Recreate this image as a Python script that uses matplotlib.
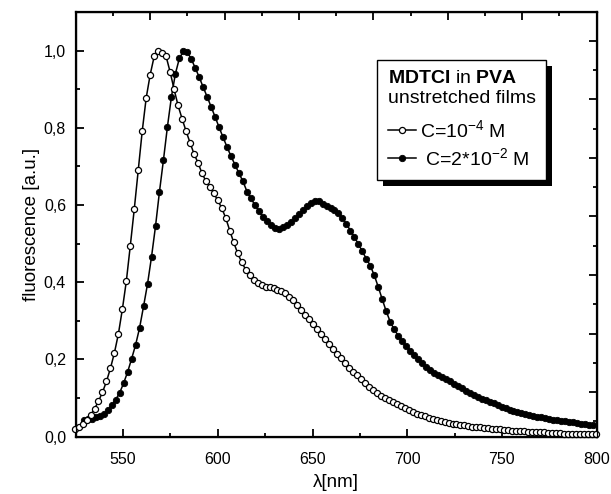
import numpy as np
import matplotlib
matplotlib.use("Agg")
import matplotlib.pyplot as plt
from matplotlib.ticker import FixedLocator, NullFormatter, MultipleLocator
from matplotlib.patches import Rectangle
from matplotlib.transforms import IdentityTransform

plt.rcParams['font.family'] = ['Liberation Sans', 'DejaVu Sans']
plt.rcParams['mathtext.fontset'] = 'custom'
plt.rcParams['mathtext.rm'] = 'Liberation Sans'
plt.rcParams['mathtext.it'] = 'Liberation Sans:italic'
plt.rcParams['mathtext.bf'] = 'Liberation Sans:bold'

# ---------------- data ----------------
# first wavelength of each series and sampling step [nm]
wl_low_start = 524.4
wl_high_start = 529.3
wl_step = 2.1

# C = 1e-4 M (open circles)
fluo_low = [
    0.020, 0.025, 0.032, 0.043, 0.056, 0.072, 0.092, 0.115, 0.143, 0.177,
    0.217, 0.266, 0.330, 0.403, 0.495, 0.590, 0.692, 0.792, 0.878, 0.938,
    0.985, 1.000, 0.993, 0.985, 0.945, 0.900, 0.858, 0.824, 0.792, 0.762,
    0.733, 0.710, 0.683, 0.662, 0.647, 0.630, 0.612, 0.592, 0.566, 0.534,
    0.503, 0.475, 0.452, 0.433, 0.418, 0.407, 0.399, 0.392, 0.389, 0.387,
    0.384, 0.381, 0.378, 0.373, 0.363, 0.354, 0.342, 0.329, 0.316, 0.304,
    0.291, 0.278, 0.265, 0.254, 0.241, 0.228, 0.215, 0.203, 0.190, 0.178,
    0.168, 0.159, 0.149, 0.138, 0.129, 0.120, 0.113, 0.106, 0.100, 0.095,
    0.089, 0.084, 0.079, 0.074, 0.069, 0.064, 0.060, 0.056, 0.053, 0.049,
    0.046, 0.043, 0.040, 0.038, 0.036, 0.034, 0.032, 0.030, 0.029, 0.027,
    0.026, 0.025, 0.024, 0.023, 0.022, 0.021, 0.020, 0.019, 0.018, 0.017,
    0.016, 0.015, 0.014, 0.014, 0.013, 0.012, 0.012, 0.011, 0.011, 0.010,
    0.010, 0.009, 0.009, 0.008, 0.008, 0.008, 0.007, 0.007, 0.007, 0.006,
    0.006, 0.006,
]

# C = 2e-2 M (filled circles)
fluo_high = [
    0.043, 0.045, 0.047, 0.050, 0.053, 0.060, 0.070, 0.082, 0.096, 0.114,
    0.139, 0.168, 0.202, 0.238, 0.282, 0.338, 0.396, 0.466, 0.545, 0.635,
    0.717, 0.803, 0.880, 0.940, 0.980, 0.998, 0.996, 0.978, 0.955, 0.931,
    0.905, 0.880, 0.854, 0.828, 0.801, 0.775, 0.750, 0.726, 0.704, 0.682,
    0.661, 0.635, 0.617, 0.600, 0.584, 0.570, 0.558, 0.548, 0.541, 0.539,
    0.542, 0.549, 0.557, 0.567, 0.576, 0.588, 0.598, 0.605, 0.610, 0.610,
    0.604, 0.598, 0.592, 0.587, 0.579, 0.566, 0.551, 0.534, 0.517, 0.499,
    0.480, 0.461, 0.443, 0.418, 0.388, 0.356, 0.325, 0.298, 0.278, 0.262,
    0.248, 0.235, 0.223, 0.212, 0.201, 0.190, 0.180, 0.172, 0.166, 0.160,
    0.155, 0.149, 0.143, 0.137, 0.131, 0.125, 0.119, 0.114, 0.108, 0.103,
    0.098, 0.094, 0.090, 0.086, 0.082, 0.078, 0.074, 0.070, 0.067, 0.064,
    0.061, 0.058, 0.056, 0.054, 0.052, 0.050, 0.048, 0.046, 0.044, 0.043,
    0.041, 0.040, 0.038, 0.037, 0.035, 0.034, 0.032, 0.031, 0.030,
]

wl_low = np.round(wl_low_start + wl_step * np.arange(len(fluo_low)), 1)
wl_high = np.round(wl_high_start + wl_step * np.arange(len(fluo_high)), 1)

x_ticks = [550, 600, 650, 700, 750, 800]
x_tick_labels = ['550', '600', '650', '700', '750', '800']
y_ticks = [0.0, 0.2, 0.4, 0.6, 0.8, 1.0]
y_tick_labels = ['0,0', '0,2', '0,4', '0,6', '0,8', '1,0']

label_low = 'C=10$^{-4}$ M'
label_high = ' C=2*10$^{-2}$ M'
legend_title = '$\\mathbf{MDTCI}$ in $\\mathbf{PVA}$\nunstretched films'

# ---------------- figure ----------------
fig = plt.figure(figsize=(6.11, 4.94), dpi=100)
ax = fig.add_axes([0.124, 0.116, 0.8525, 0.8597])

l1, = ax.plot(wl_low, fluo_low, '-', color='black', lw=1.1, marker='o',
              ms=4.4, mfc='white', mec='black', mew=0.9, label=label_low,
              clip_on=False, zorder=3)
l2, = ax.plot(wl_high, fluo_high, '-', color='black', lw=1.1, marker='o',
              ms=4.6, mfc='black', mec='black', mew=0.6, label=label_high,
              clip_on=False, zorder=2)

ax.set_xlim(525, 800)
ax.set_ylim(0, 1.1)
ax.xaxis.set_major_locator(FixedLocator(x_ticks))
ax.set_xticklabels(x_tick_labels)
ax.xaxis.set_minor_locator(MultipleLocator(25))
ax.yaxis.set_major_locator(FixedLocator(y_ticks))
ax.set_yticklabels(y_tick_labels)
ax.yaxis.set_minor_locator(MultipleLocator(0.1))

ax.tick_params(which='both', direction='in', top=False, right=False,
               labelsize=11.5, width=1.3)
ax.tick_params(which='major', length=6)
ax.tick_params(which='minor', length=3)
ax.tick_params(axis='x', pad=11)
ax.tick_params(axis='y', pad=7)
for s in ax.spines.values():
    s.set_linewidth(1.6)

ax.set_xlabel('λ[nm]', fontsize=13.5, labelpad=5)
ax.set_ylabel('fluorescence [a.u.]', fontsize=13.5, labelpad=3)

# top axis ticks (independent scale, no labels)
axt = ax.twiny()
axt.set_xlim(0, 14)
axt.xaxis.set_major_locator(FixedLocator(list(range(2, 14, 2))))
axt.xaxis.set_minor_locator(FixedLocator(list(range(1, 14, 2))))
axt.xaxis.set_major_formatter(NullFormatter())
axt.tick_params(axis='x', which='both', direction='in', width=1.3)
axt.tick_params(axis='x', which='major', length=6)
axt.tick_params(axis='x', which='minor', length=3)

# right axis ticks (independent scale, no labels)
axr = ax.twinx()
axr.set_ylim(-0.52, 13.98)
axr.yaxis.set_major_locator(FixedLocator(list(range(1, 14, 2))))
axr.yaxis.set_minor_locator(FixedLocator(list(range(0, 14, 2))))
axr.yaxis.set_major_formatter(NullFormatter())
axr.tick_params(axis='y', which='both', direction='in', width=1.3)
axr.tick_params(axis='y', which='major', length=6)
axr.tick_params(axis='y', which='minor', length=3)

leg = ax.legend(handles=[l1, l2], title=legend_title, loc='upper left',
                bbox_to_anchor=(0.578, 0.888), fontsize=14,
                title_fontsize=14, alignment='left', numpoints=1,
                handlelength=1.45, handletextpad=0.2, borderpad=0.55,
                labelspacing=0.3, frameon=True, fancybox=False,
                framealpha=1, edgecolor='black', borderaxespad=0)
leg.get_frame().set_linewidth(1.0)
leg._legend_box.sep = 9
leg.set_zorder(10)

fig.canvas.draw()
bb = leg.get_window_extent()
shadow = Rectangle((bb.x0 + 6, bb.y0 - 6), bb.width, bb.height,
                   transform=IdentityTransform(), facecolor='black',
                   edgecolor='none', zorder=9.9)
ax.add_artist(shadow)

fig.savefig('out.png', dpi=100)
